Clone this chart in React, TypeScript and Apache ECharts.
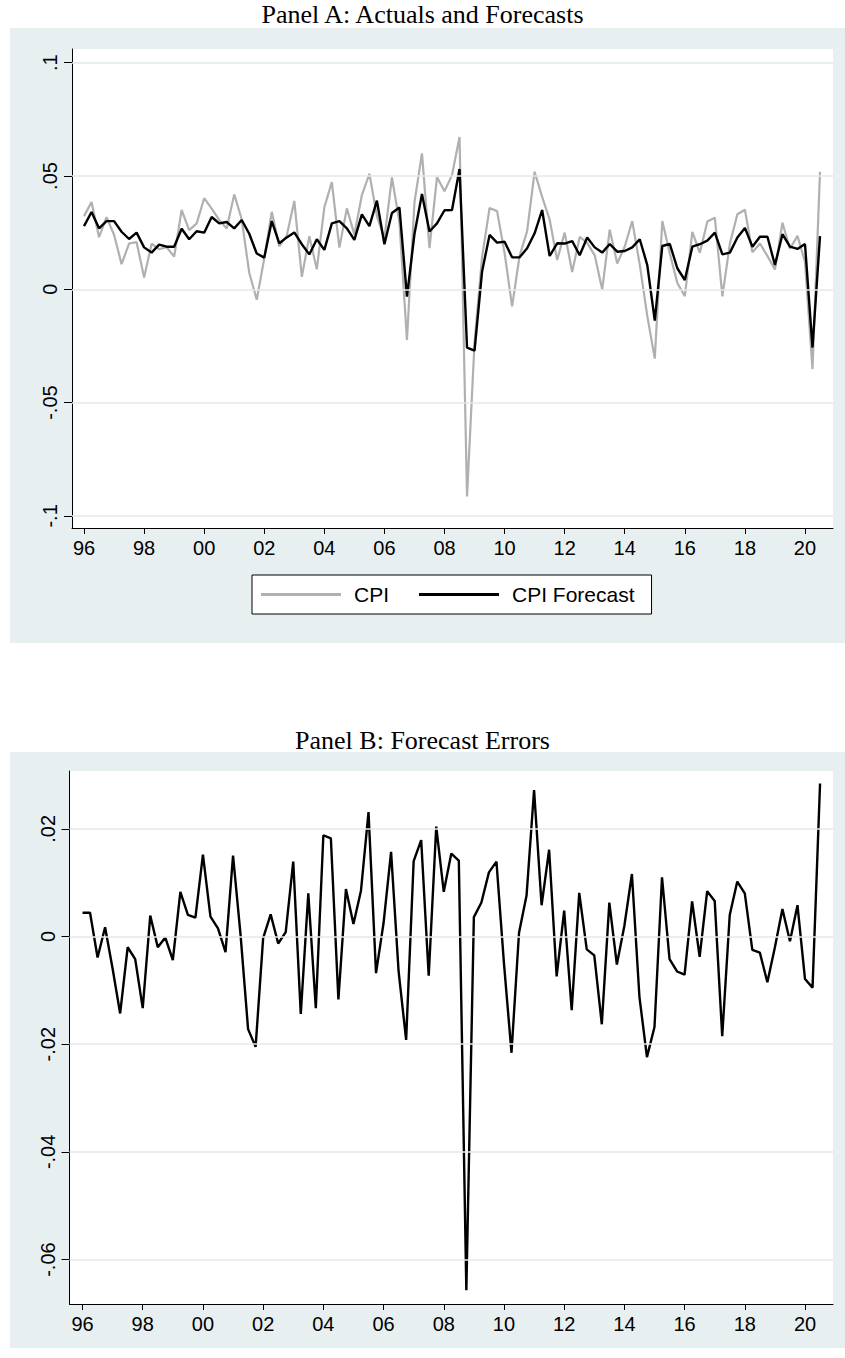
import React, { useEffect, useRef } from 'react';
import * as echarts from 'echarts';

// Quarterly observations, 1996Q1 .. 2020Q3 (index 0 = 1996Q1)
const cpi = [
  0.0323, 0.0385, 0.0230, 0.0318, 0.0241, 0.0111, 0.0202, 0.0208, 0.0052, 0.0201,
  0.0177, 0.0186, 0.0144, 0.0350, 0.0261, 0.0291, 0.0402, 0.0356, 0.0306, 0.0268,
  0.0419, 0.0309, 0.0073, -0.0046, 0.0137, 0.0342, 0.0190, 0.0237, 0.0390, 0.0055,
  0.0234, 0.0088, 0.0362, 0.0473, 0.0184, 0.0357, 0.0241, 0.0416, 0.0510, 0.0323,
  0.0224, 0.0494, 0.0296, -0.0224, 0.0384, 0.0600, 0.0182, 0.0495, 0.0433, 0.0504,
  0.0672, -0.0914, -0.0235, 0.0141, 0.0359, 0.0345, 0.0160, -0.0075, 0.0148, 0.0257,
  0.0519, 0.0408, 0.0308, 0.0129, 0.0250, 0.0076, 0.0231, 0.0205, 0.0150, -0.0001,
  0.0263, 0.0114, 0.0189, 0.0301, 0.0109, -0.0117, -0.0306, 0.0301, 0.0158, 0.0028,
  -0.0030, 0.0253, 0.0161, 0.0299, 0.0316, -0.0031, 0.0202, 0.0331, 0.0351, 0.0163,
  0.0202, 0.0147, 0.0087, 0.0294, 0.0179, 0.0236, 0.0121, -0.0352, 0.0519,
];

const cpiForecast = [
  0.0279, 0.0341, 0.0269, 0.0301, 0.0301, 0.0254, 0.0222, 0.0250, 0.0185, 0.0162,
  0.0197, 0.0188, 0.0188, 0.0267, 0.0221, 0.0256, 0.0250, 0.0319, 0.0291, 0.0297,
  0.0269, 0.0306, 0.0245, 0.0158, 0.0140, 0.0301, 0.0203, 0.0229, 0.0251, 0.0199,
  0.0154, 0.0221, 0.0174, 0.0291, 0.0301, 0.0269, 0.0218, 0.0331, 0.0279, 0.0391,
  0.0199, 0.0337, 0.0361, -0.0032, 0.0244, 0.0421, 0.0255, 0.0291, 0.0349, 0.0350,
  0.0531, -0.0257, -0.0271, 0.0078, 0.0240, 0.0206, 0.0210, 0.0141, 0.0141, 0.0181,
  0.0247, 0.0350, 0.0147, 0.0203, 0.0202, 0.0213, 0.0150, 0.0229, 0.0185, 0.0162,
  0.0200, 0.0166, 0.0169, 0.0185, 0.0221, 0.0107, -0.0138, 0.0191, 0.0200, 0.0093,
  0.0041, 0.0188, 0.0199, 0.0215, 0.0250, 0.0154, 0.0162, 0.0229, 0.0271, 0.0188,
  0.0232, 0.0232, 0.0107, 0.0243, 0.0188, 0.0178, 0.0200, -0.0257, 0.0235,
];

const forecastErrors = [
  0.0044, 0.0044, -0.0039, 0.0017, -0.0060, -0.0143, -0.0020, -0.0042, -0.0133, 0.0039,
  -0.0020, -0.0002, -0.0044, 0.0083, 0.0040, 0.0035, 0.0152, 0.0037, 0.0015, -0.0029,
  0.0150, 0.0003, -0.0172, -0.0205, -0.0003, 0.0041, -0.0013, 0.0008, 0.0139, -0.0144,
  0.0080, -0.0133, 0.0188, 0.0182, -0.0117, 0.0088, 0.0023, 0.0085, 0.0231, -0.0068,
  0.0025, 0.0157, -0.0065, -0.0192, 0.0140, 0.0179, -0.0073, 0.0204, 0.0083, 0.0154,
  0.0141, -0.0657, 0.0036, 0.0063, 0.0119, 0.0139, -0.0050, -0.0216, 0.0007, 0.0076,
  0.0272, 0.0058, 0.0161, -0.0074, 0.0048, -0.0137, 0.0081, -0.0024, -0.0035, -0.0163,
  0.0063, -0.0052, 0.0020, 0.0116, -0.0112, -0.0224, -0.0168, 0.0110, -0.0042, -0.0065,
  -0.0071, 0.0065, -0.0038, 0.0084, 0.0066, -0.0185, 0.0040, 0.0102, 0.0080, -0.0025,
  -0.0030, -0.0085, -0.0020, 0.0051, -0.0009, 0.0058, -0.0079, -0.0095, 0.0284,
];

// x ticks every 2 years (8 quarters), starting at 1996Q1
const xTickLabels = ['96', '98', '00', '02', '04', '06', '08', '10', '12', '14', '16', '18', '20'];
const quartersPerTick = 8;

const yTicksA = [-0.1, -0.05, 0, 0.05, 0.1];
const yTickLabelsA = ['-.1', '-.05', '0', '.05', '.1'];
const yTicksB = [-0.06, -0.04, -0.02, 0, 0.02];
const yTickLabelsB = ['-.06', '-.04', '-.02', '0', '.02'];

const titleA = 'Panel A: Actuals and Forecasts';
const titleB = 'Panel B: Forecast Errors';
const seriesNames = ['CPI', 'CPI Forecast'];

export default function App() {
  const ref = useRef<HTMLDivElement>(null);

  useEffect(() => {
    if (!ref.current) return;
    const chart = echarts.init(ref.current, null, { renderer: 'svg' });

    const sans = "'Liberation Sans', Arial, Helvetica, sans-serif";
    const serif = "'Liberation Serif', 'DejaVu Serif', serif";
    const bg = '#e8eff1';
    const gridColor = '#e2eaec';
    const xTickValues = xTickLabels.map((_, i) => i * quartersPerTick);
    const pairs = (arr: number[]) => arr.map((v, i) => [i, v]);

    const yLabel = (ticks: number[], labels: string[]) => (v: number) => {
      const k = ticks.findIndex((t) => Math.abs(t - v) < 1e-9);
      return k >= 0 ? labels[k] : '';
    };

    const xAxis = (gridIndex: number, min: number, max: number) => ({
      type: 'value',
      gridIndex,
      min,
      max,
      axisLine: { show: true, onZero: false, lineStyle: { color: '#000', width: 1 } },
      axisTick: { show: true, length: 6, customValues: xTickValues, lineStyle: { color: '#000', width: 1 } },
      axisLabel: {
        customValues: xTickValues,
        formatter: (v: number) => xTickLabels[Math.round(v / quartersPerTick)] ?? '',
        fontSize: 20,
        color: '#000',
        fontFamily: sans,
        margin: 10,
      },
      splitLine: { show: false },
    });

    const yAxis = (gridIndex: number, min: number, max: number, ticks: number[], labels: string[]) => ({
      type: 'value',
      gridIndex,
      min,
      max,
      axisLine: { show: true, onZero: false, lineStyle: { color: '#000', width: 1 } },
      axisTick: { show: true, length: 8, customValues: ticks, lineStyle: { color: '#000', width: 1 } },
      axisLabel: {
        customValues: ticks,
        rotate: 90,
        formatter: yLabel(ticks, labels),
        fontSize: 20,
        color: '#000',
        fontFamily: sans,
        margin: 12,
      },
      splitLine: { show: false },
    });

    const gridLines = (axisIndex: number, ticks: number[]) => ({
      type: 'line',
      xAxisIndex: axisIndex,
      yAxisIndex: axisIndex,
      data: [],
      z: 1,
      silent: true,
      markLine: {
        silent: true,
        symbol: 'none',
        label: { show: false },
        animation: false,
        lineStyle: { color: gridColor, width: 1.5, type: 'solid' },
        data: ticks.map((t) => ({ yAxis: t })),
      },
    });

    const titleStyle = { fontFamily: serif, fontSize: 26, fontWeight: 'normal', color: '#000' };

    chart.setOption({
      animation: false,
      backgroundColor: '#ffffff',
      title: [
        { text: titleA, left: 'center', top: 1, padding: 0, textStyle: titleStyle },
        { text: titleB, left: 'center', top: 727, padding: 0, textStyle: titleStyle },
      ],
      graphic: [
        { type: 'rect', z: -100, silent: true, shape: { x: 10, y: 28, width: 835, height: 615 }, style: { fill: bg } },
        { type: 'rect', z: -100, silent: true, shape: { x: 10, y: 752, width: 835, height: 596 }, style: { fill: bg } },
      ],
      grid: [
        { left: 72, right: 12, top: 49, height: 479, show: true, backgroundColor: '#fff', borderWidth: 0 },
        { left: 69.5, right: 12, top: 771, height: 533, show: true, backgroundColor: '#fff', borderWidth: 0 },
      ],
      xAxis: [xAxis(0, -1.6, 99.73), xAxis(1, -1.73, 99.72)],
      yAxis: [
        yAxis(0, -0.10534, 0.10605, yTicksA, yTickLabelsA),
        yAxis(1, -0.06825, 0.03073, yTicksB, yTickLabelsB),
      ],
      legend: {
        data: seriesNames,
        left: 252,
        top: 575,
        orient: 'horizontal',
        icon: 'rect',
        itemWidth: 80,
        itemHeight: 3,
        itemGap: 30,
        padding: [9, 17, 9, 9],
        borderColor: '#000',
        borderWidth: 1,
        backgroundColor: '#fff',
        selectedMode: false,
        textStyle: { fontSize: 21, fontFamily: sans, color: '#000', padding: [0, 0, 0, 8] },
      },
      tooltip: { show: false },
      series: [
        gridLines(0, yTicksA),
        gridLines(1, yTicksB),
        {
          name: seriesNames[0],
          type: 'line',
          xAxisIndex: 0,
          yAxisIndex: 0,
          data: pairs(cpi),
          showSymbol: false,
          symbol: 'none',
          z: 2,
          color: '#b0b0b0',
          lineStyle: { color: '#b0b0b0', width: 2.2 },
          emphasis: { disabled: true },
        },
        {
          name: seriesNames[1],
          type: 'line',
          xAxisIndex: 0,
          yAxisIndex: 0,
          data: pairs(cpiForecast),
          showSymbol: false,
          symbol: 'none',
          z: 3,
          color: '#000',
          lineStyle: { color: '#000', width: 2.4 },
          emphasis: { disabled: true },
        },
        {
          name: 'Forecast Errors',
          type: 'line',
          xAxisIndex: 1,
          yAxisIndex: 1,
          data: pairs(forecastErrors),
          showSymbol: false,
          symbol: 'none',
          z: 3,
          color: '#000',
          lineStyle: { color: '#000', width: 2.4 },
          emphasis: { disabled: true },
        },
      ],
    });

    return () => chart.dispose();
  }, []);

  return (
    <div
      ref={ref}
      style={{ position: 'absolute', left: 0, top: 0, width: 845, height: 1358 }}
    />
  );
}
